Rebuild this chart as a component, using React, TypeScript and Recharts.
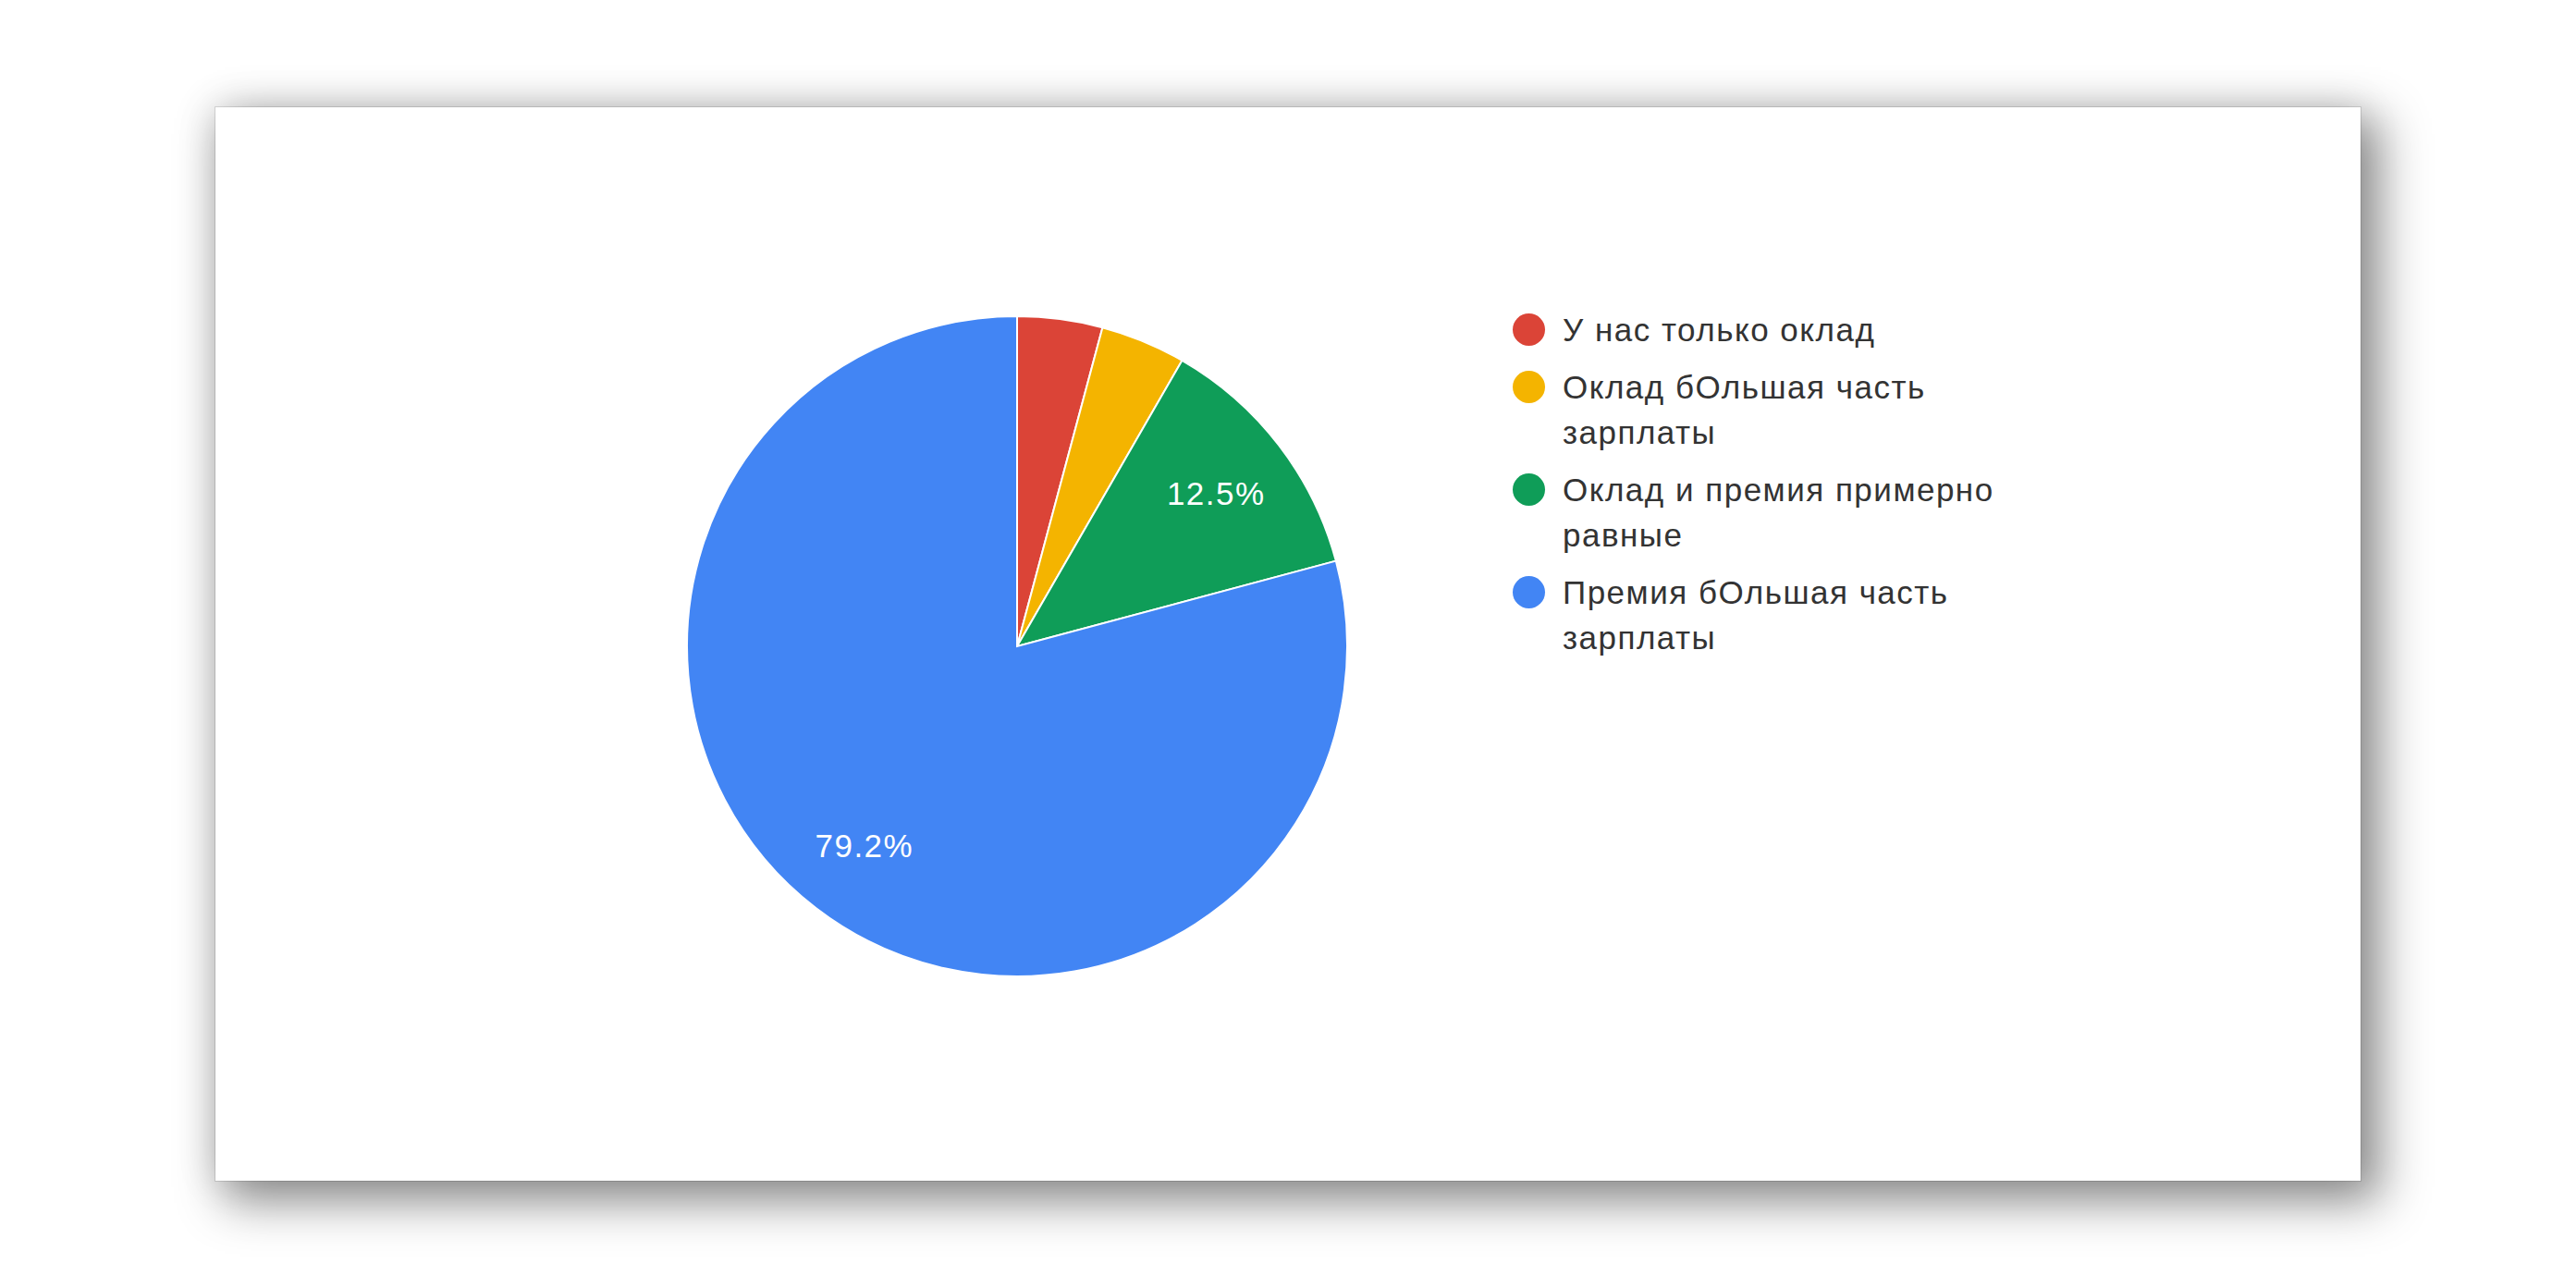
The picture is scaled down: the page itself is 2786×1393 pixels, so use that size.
import React from 'react';
import { PieChart, Pie, Cell, Legend } from 'recharts';

const categories = [
  'У нас только оклад',
  'Оклад бОльшая часть зарплаты',
  'Оклад и премия примерно равные',
  'Премия бОльшая часть зарплаты',
];
const responses = [1, 1, 3, 19];
const colors = ['#db4437', '#f4b400', '#0f9d58', '#4285f4'];

const data = categories.map((name, i) => ({ name, value: responses[i] }));

const RAD = Math.PI / 180;
const FONT = '"Liberation Sans", Arial, sans-serif';

const renderLabel = (props: any) => {
  const { cx, cy, midAngle, outerRadius, percent } = props;
  if (percent < 0.05) return null;
  const r = outerRadius * 0.76;
  const x = cx + r * Math.cos(-midAngle * RAD);
  const y = cy + r * Math.sin(-midAngle * RAD);
  return (
    <text
      x={x}
      y={y}
      fill="#fff"
      textAnchor="middle"
      dominantBaseline="central"
      fontSize={35}
      letterSpacing={1.5}
      fontFamily={FONT}
    >
      {(percent * 100).toFixed(1)}%
    </text>
  );
};

const renderLegend = () => (
  <div style={{ fontFamily: FONT, fontSize: 35, color: '#333', letterSpacing: 1.5 }}>
    {categories.map((name, i) => (
      <div key={name} style={{ display: 'flex', alignItems: 'flex-start', marginBottom: 13, lineHeight: '49px' }}>
        <span
          style={{
            width: 35,
            height: 35,
            borderRadius: '50%',
            background: colors[i],
            flex: '0 0 auto',
            marginTop: 7,
            marginRight: 19,
          }}
        />
        <span style={{ width: 500 }}>{name}</span>
      </div>
    ))}
  </div>
);

const App: React.FC = () => (
  <div style={{ position: 'absolute', left: 0, top: 0, width: 2786, height: 1393, background: '#fff' }}>
    <div
      style={{
        position: 'absolute',
        left: 233,
        top: 116,
        width: 2320,
        height: 1161,
        background: '#fff',
        boxShadow: '16px 18px 48px 6px rgba(0,0,0,0.42), 0 0 40px rgba(0,0,0,0.13), 0 0 0 1px #e2e2e2',
      }}
    >
      <PieChart width={2320} height={1161}>
        <Pie
          data={data}
          dataKey="value"
          nameKey="name"
          cx={862}
          cy={578}
          outerRadius={357}
          startAngle={90}
          endAngle={-270}
          stroke="#fff"
          strokeWidth={2}
          label={renderLabel}
          labelLine={false}
          isAnimationActive={false}
        >
          {data.map((d, i) => (
            <Cell key={d.name} fill={colors[i]} />
          ))}
        </Pie>
        <Legend
          content={renderLegend}
          wrapperStyle={{ left: 1403, top: 216, width: 580, bottom: 'auto', right: 'auto' }}
        />
      </PieChart>
    </div>
  </div>
);

export default App;
